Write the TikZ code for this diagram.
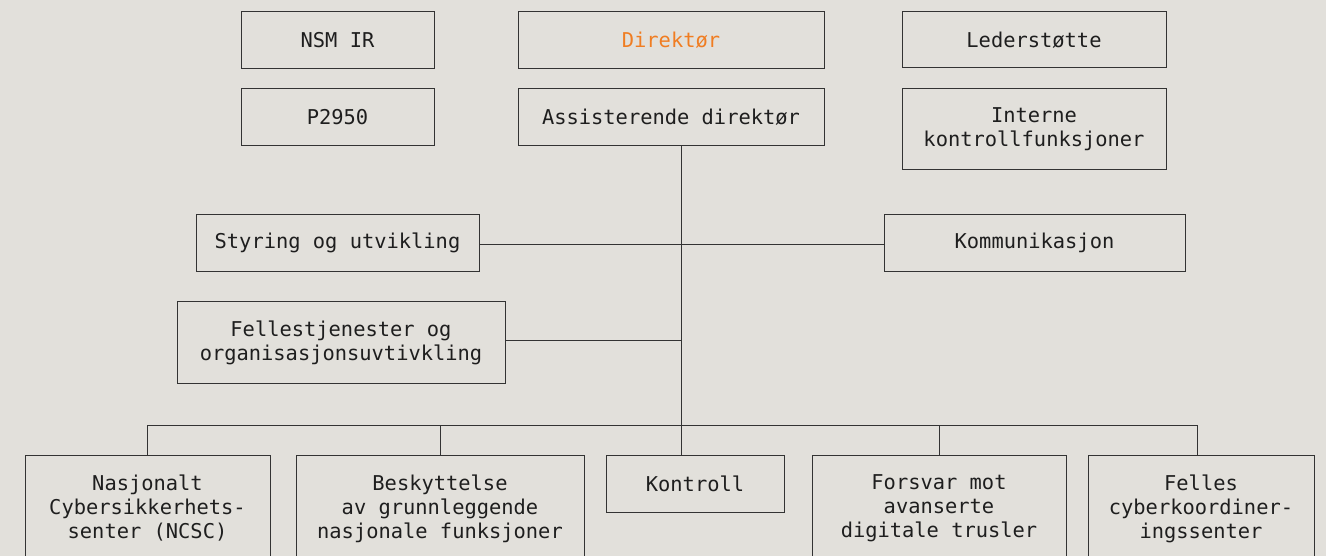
\documentclass[tikz,border=0pt]{standalone}
\usepackage{fontspec}
\setmonofont{DejaVu Sans Mono}
\definecolor{bg}{HTML}{E2E0DB}
\definecolor{ln}{HTML}{333333}
\definecolor{tx}{HTML}{1E1E1E}
\definecolor{org}{HTML}{F07D22}
\begin{document}
\begin{tikzpicture}[x=1pt,y=-1pt,
  box/.style={draw=ln, line width=1pt, fill=bg, text=tx, align=center,
    inner sep=0pt, font=\ttfamily\fontsize{20.4}{24}\selectfont},
  bot/.style={box, anchor=north, minimum height=57, inner ysep=19pt, inner xsep=4pt},
  conn/.style={draw=ln, line width=1pt}]
\fill[bg] (0,0) rectangle (1326,556);
\useasboundingbox (0,0) rectangle (1326,556);
\clip (0,0) rectangle (1326,556);
% top rows
\node[box, minimum width=193, minimum height=57] (nsm) at (337.5,40.5) {NSM IR};
\node[box, minimum width=193, minimum height=57] (p29) at (337.5,117.5) {P2950};
\node[box, minimum width=306, minimum height=57, text=org] (dir) at (671,40.5) {Direktør};
\node[box, minimum width=306, minimum height=57] (ass) at (671,117.5) {Assisterende direktør};
\node[box, minimum width=264, minimum height=56] (led) at (1034,40) {Lederstøtte};
\node[box, minimum width=264, minimum height=81] (int) at (1034,129.5) {Interne\\kontrollfunksjoner};
% middle
\node[box, minimum width=283, minimum height=57] (sty) at (337.5,243) {Styring og utvikling};
\node[box, minimum width=301, minimum height=57] (kom) at (1034.5,243) {Kommunikasjon};
\node[box, minimum width=328, minimum height=81] (fel) at (341,342.5) {Fellestjenester og\\organisasjonsuvtivkling};
% bottom
\node[bot, minimum width=245] (nc) at (147.5,455) {Nasjonalt\\Cybersikkerhets-\\senter (NCSC)};
\node[bot, minimum width=288] (bes) at (440,455) {Beskyttelse\\av grunnleggende\\nasjonale funksjoner};
\node[box, anchor=north, minimum width=178, minimum height=57] (kon) at (695,455) {Kontroll};
\node[bot, minimum width=254] (for) at (939,455) {Forsvar mot\\avanserte\\digitale trusler};
\node[bot, minimum width=226] (fcc) at (1201,455) {Felles\\cyberkoordiner-\\ingssenter};
% connectors
\coordinate (top) at ([xshift=10pt]ass.south);
\coordinate (bus) at (0,425);
\draw[conn] (top) -- (top |- kon.north);
\draw[conn] ([yshift=-2pt]sty.east) -- ([yshift=-2pt]sty.east -| kom.west);
\draw[conn] ([yshift=2.5pt]fel.east) -- ([yshift=2.5pt]fel.east -| top);
\draw[conn] (nc.north) -- (nc.north |- bus) -- ([xshift=-4pt]fcc.north |- bus) -- ([xshift=-4pt]fcc.north);
\draw[conn] (bes.north) -- (bes.north |- bus);
\draw[conn] (for.north) -- (for.north |- bus);
\end{tikzpicture}
\end{document}
